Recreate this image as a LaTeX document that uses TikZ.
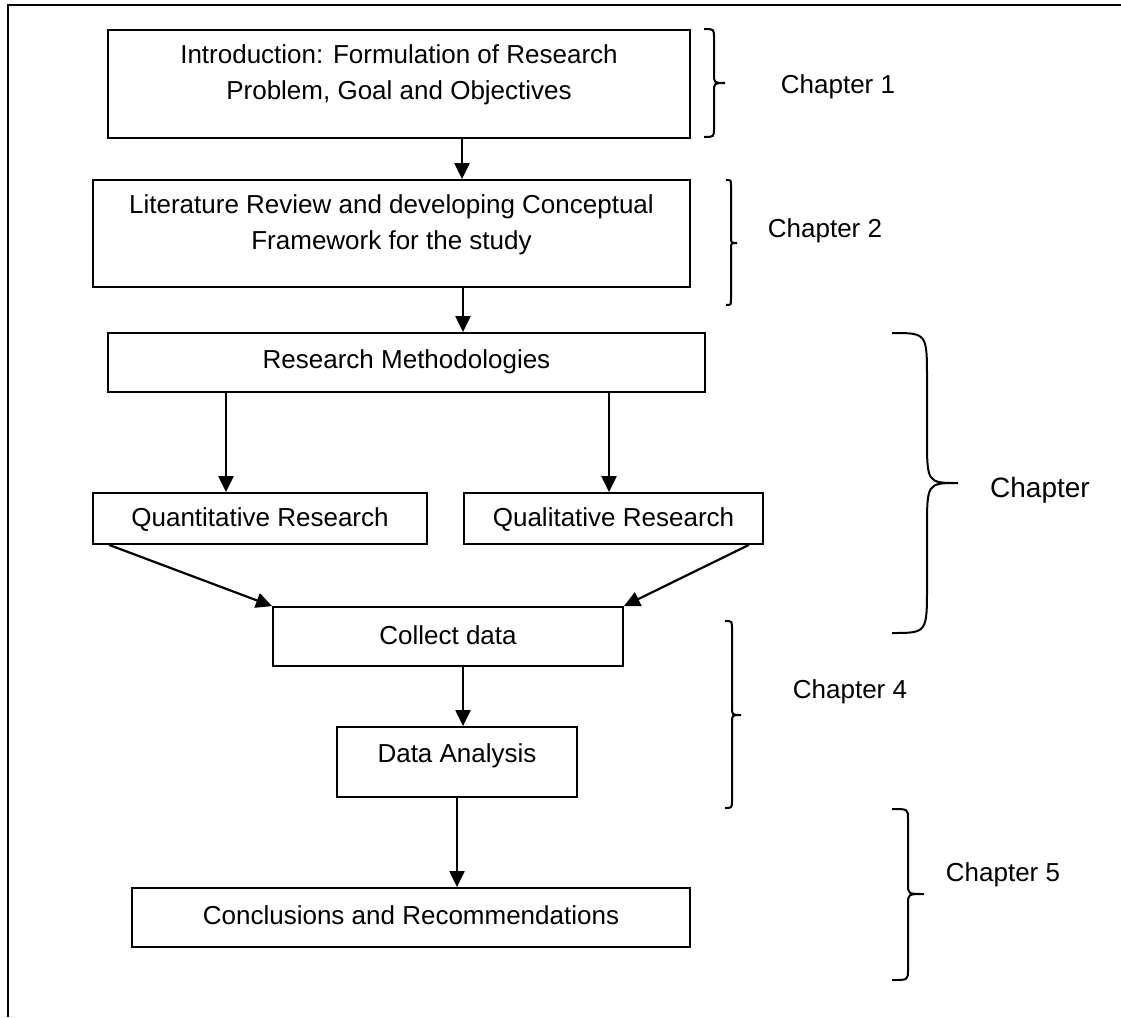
\documentclass[tikz,border=0pt]{standalone}
\usepackage{fontspec}
\setmainfont{Liberation Sans}
\usetikzlibrary{arrows.meta}

% curly brace opening to the right:
% #1 end x, #2 stem x, #3 tip x, #4 top y, #5 tip y, #6 bottom y, #7 curl radius
\newcommand\chapterbrace[7]{%
  \draw[bracestyle] (#1,#4) .. controls (#2,#4) .. (#2,#4+#7)
    -- (#2,#5-#7) .. controls (#2,#5) .. (#3,#5)
    .. controls (#2,#5) .. (#2,#5+#7)
    -- (#2,#6-#7) .. controls (#2,#6) .. (#1,#6);}

\begin{document}
\begin{tikzpicture}[x=1pt,y=-1pt,
  box/.style={draw,line width=1.8pt,inner sep=0pt},
  txt/.style={align=center,inner sep=0pt,font=\fontsize{26}{36}\selectfont},
  arr/.style={line width=2.2pt,-{Triangle[length=16pt,width=15pt]}},
  bracestyle/.style={line width=2pt},
  chap/.style={inner sep=0pt,font=\fontsize{26}{31}\selectfont}]
\useasboundingbox (0,0) rectangle (1121,1017);

% page frame
\draw[line width=1.8pt] (8,1017) -- (8,5) -- (1121,5);

% boxes
\node[box,minimum width=582pt,minimum height=108pt] (intro)   at (399,84) {};
\node[box,minimum width=597pt,minimum height=107pt] (lit)     at (391.5,233.5) {};
\node[box,minimum width=597pt,minimum height=59pt]  (meth)    at (406.5,362.5) {};
\node[box,minimum width=334pt,minimum height=51pt]  (quant)   at (260,518.5) {};
\node[box,minimum width=299pt,minimum height=51pt]  (qual)    at (613.5,518.5) {};
\node[box,minimum width=350pt,minimum height=59pt]  (collect) at (448,636.5) {};
\node[box,minimum width=240pt,minimum height=70pt]  (da)      at (457,762) {};
\node[box,minimum width=558pt,minimum height=59pt]  (conc)    at (411,917.5) {};

% box texts
\node[txt] (introtxt)   at (399,75)    {Introduction: Formulation of Research\\Problem, Goal and Objectives};
\node[txt] (littxt)     at (391.5,224.5) {Literature Review and developing Conceptual\\Framework for the study};
\node[txt] (methtxt)    at (406.5,362) {Research Methodologies};
\node[txt] (quanttxt)   at (260,520)   {Quantitative Research};
\node[txt] (qualtxt)    at (613.5,520) {Qualitative Research};
\node[txt] (collecttxt) at (448,635)   {Collect data};
\node[txt] (datxt)      at (457,756)   {Data Analysis};
\node[txt] (conctxt)    at (411,915)   {Conclusions and Recommendations};

% arrow columns
\coordinate (ca) at (462,0);
\coordinate (cb) at (463,0);
\coordinate (cc) at (226,0);
\coordinate (cd) at (609,0);
\coordinate (ce) at (457,0);

\draw[arr] (intro.south -| ca) -- (lit.north -| ca);
\draw[arr] (lit.south -| cb) -- (meth.north -| cb);
\draw[arr] (meth.south -| cc) -- (quant.north -| cc);
\draw[arr] (meth.south -| cd) -- (qual.north -| cd);
\draw[arr] ([xshift=17pt]quant.south west) -- (collect.north west);
\draw[arr] ([xshift=-15pt]qual.south east) -- (collect.north east);
\draw[arr] (collect.south -| cb) -- (da.north -| cb);
\draw[arr] (da.south -| ce) -- (conc.north -| ce);

% chapter braces
\chapterbrace{704}{714}{725}{29}{83}{137}{9}
\chapterbrace{726}{731}{737}{180}{243}{305}{6}
\chapterbrace{892}{927}{958}{333}{483}{633}{47}
\chapterbrace{725}{732}{741}{621}{715}{808}{8}
\chapterbrace{892}{908}{924}{809}{894}{980}{10}

% chapter labels
\node[chap] (ch1) at (838,87)  {Chapter 1};
\node[chap] (ch2) at (825,231) {Chapter 2};
\node[chap,font=\fontsize{28}{34}\selectfont] (ch3) at (1040,490) {Chapter};
\node[chap] (ch4) at (850,692) {Chapter 4};
\node[chap] (ch5) at (1003,875) {Chapter 5};
\end{tikzpicture}
\end{document}
